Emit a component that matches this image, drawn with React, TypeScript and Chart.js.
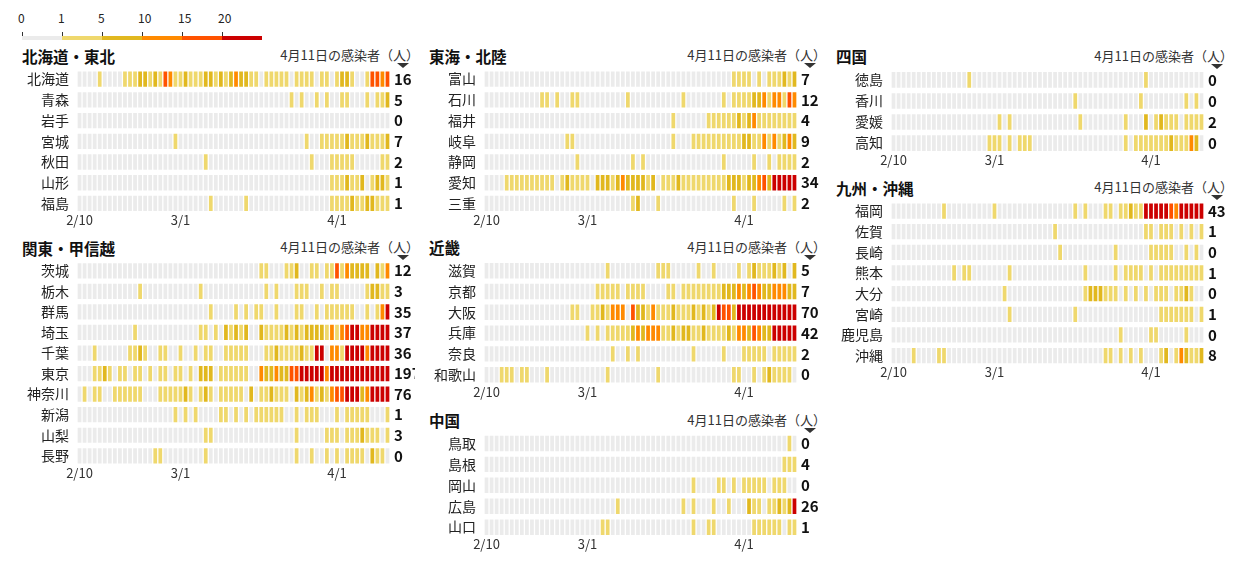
import React, { useEffect, useRef } from 'react';
import { Chart, registerables } from 'chart.js';

Chart.register(...registerables);

// Day categories shown along each strip (one cell per day)
const DATES = [
  '2/10', '2/11', '2/12', '2/13', '2/14', '2/15', '2/16', '2/17', '2/18', '2/19',
  '2/20', '2/21', '2/22', '2/23', '2/24', '2/25', '2/26', '2/27', '2/28', '2/29',
  '3/1', '3/2', '3/3', '3/4', '3/5', '3/6', '3/7', '3/8', '3/9', '3/10',
  '3/11', '3/12', '3/13', '3/14', '3/15', '3/16', '3/17', '3/18', '3/19', '3/20',
  '3/21', '3/22', '3/23', '3/24', '3/25', '3/26', '3/27', '3/28', '3/29', '3/30',
  '3/31', '4/1', '4/2', '4/3', '4/4', '4/5', '4/6', '4/7', '4/8', '4/9',
  '4/10', '4/11',
];
const AXIS_DATES = ['2/10', '3/1', '4/1'];
const LATEST_HEADER = '4月11日の感染者（人）';

// Colour scale: counts below the next stop take the colour at that index
const LEGEND_STOPS = [0, 1, 5, 10, 15, 20];
const SCALE_COLORS = ['#ebebeb', '#efd86d', '#e1b81f', '#ff8a00', '#ff5200', '#cc0000'];

// Daily new cases per prefecture, 2/10 .. 4/11
const hokkaido = [0,0,0,0,1,0,0,0,0,2, 1,3,6,7,3,8,4,15,12,3, 2,6,2,1,4,5,7,2,6,4, 7,12,6,5,2,1,0,1,2,3, 2,1,0,2,1,3,2,0,2,1, 0,2,5,6,3,0,0,4,17,18, 13,16];
const aomori = [0,0,0,0,0,0,0,0,0,0, 0,0,0,0,0,0,0,0,0,0, 0,0,0,0,0,0,0,0,0,0, 0,0,0,0,0,0,0,0,0,0, 0,0,1,0,1,0,0,1,0,1, 0,0,1,2,0,0,0,1,0,2, 3,5];
const iwate = [0,0,0,0,0,0,0,0,0,0, 0,0,0,0,0,0,0,0,0,0, 0,0,0,0,0,0,0,0,0,0, 0,0,0,0,0,0,0,0,0,0, 0,0,0,0,0,0,0,0,0,0, 0,0,0,0,0,0,0,0,0,0, 0,0];
const miyagi = [0,0,0,0,0,0,0,0,0,0, 0,0,0,0,0,0,0,0,0,1, 0,0,0,0,0,0,0,0,0,0, 0,0,0,0,0,0,0,0,0,0, 0,0,0,0,0,1,0,0,1,2, 1,3,2,6,4,2,3,5,2,3, 4,7];
const akita = [0,0,0,0,0,0,0,0,0,0, 0,0,0,0,0,0,0,0,0,0, 0,0,0,0,0,1,0,0,0,0, 0,0,0,0,0,0,0,0,0,0, 0,0,0,0,0,0,1,0,0,0, 1,2,1,1,1,0,0,0,0,0, 1,2];
const yamagata = [0,0,0,0,0,0,0,0,0,0, 0,0,0,0,0,0,0,0,0,0, 0,0,0,0,0,0,0,0,0,0, 0,0,0,0,0,0,0,0,0,0, 0,0,0,0,0,0,0,0,0,0, 1,2,1,5,2,1,6,0,3,5, 6,1];
const fukushima = [0,0,0,0,0,0,0,0,0,0, 0,0,0,0,0,0,0,0,0,0, 0,0,0,0,0,0,1,0,0,0, 0,0,0,1,0,0,0,0,0,0, 0,0,0,0,0,0,0,0,0,0, 1,2,1,3,5,2,1,5,6,2, 2,1];

const ibaraki = [0,0,0,0,0,0,0,0,0,0, 0,0,0,0,0,0,0,0,0,0, 0,0,0,0,0,0,0,0,0,0, 0,0,0,0,0,0,1,2,0,0, 0,2,3,6,0,0,1,2,0,2, 3,16,4,11,6,5,7,6,0,5, 4,12];
const tochigi = [0,0,0,0,0,0,0,0,0,0, 0,0,1,0,0,0,0,0,0,0, 0,0,0,0,1,0,0,0,0,0, 0,0,0,0,0,0,0,1,0,1, 0,0,0,1,2,1,0,0,1,0, 1,2,0,0,0,0,0,2,5,6, 1,3];
const gunma = [0,0,0,0,0,0,0,0,0,0, 0,0,0,0,0,0,0,0,0,0, 0,0,0,0,0,0,1,0,0,0, 0,1,0,1,0,2,1,0,0,1, 0,0,0,2,1,0,0,1,0,2, 1,3,1,2,1,0,0,2,0,3, 12,35];
const saitama = [0,0,0,0,0,0,0,0,0,0, 0,1,0,0,0,0,0,0,0,0, 0,0,0,0,1,2,0,1,0,5, 2,6,3,7,0,0,5,3,2,4, 1,6,3,8,4,7,9,5,6,2, 12,4,11,16,24,21,13,12,26,40, 29,37];
const chiba = [0,0,0,1,0,0,0,0,0,0, 2,1,5,2,0,0,1,3,0,0, 1,0,0,2,0,1,2,0,0,1, 3,2,1,2,0,0,0,1,2,6, 3,2,4,3,5,2,4,22,27,0, 12,11,4,22,25,23,21,13,30,20, 26,36];
const tokyo = [0,0,0,3,2,8,1,0,3,2, 0,1,3,0,2,0,3,3,0,1, 3,0,1,0,5,6,6,0,2,4, 4,2,3,1,0,0,12,7,7,11, 9,7,16,17,41,47,40,63,68,13, 78,66,97,89,116,143,83,80,144,178, 189,197];
const kanagawa = [0,1,0,2,1,0,0,1,2,1, 3,2,1,0,0,0,1,2,1,3, 2,6,1,0,2,5,1,0,1,2, 1,3,2,0,6,0,2,1,7,2, 3,1,0,8,4,6,11,3,5,2, 10,16,19,21,23,24,7,12,30,22, 42,76];
const niigata = [0,0,0,0,0,0,0,0,0,0, 0,0,0,0,0,0,0,0,0,1, 0,1,0,1,0,0,0,0,1,2, 0,1,0,1,0,1,2,1,3,2, 1,0,0,2,0,1,1,2,0,0, 0,1,0,2,1,1,2,1,0,0, 0,1];
const yamanashi = [0,0,0,0,0,0,0,0,0,0, 0,0,0,0,0,0,0,0,0,0, 0,0,0,0,0,1,1,0,0,0, 0,0,0,0,0,0,0,0,0,0, 0,0,0,1,0,0,0,0,0,2, 1,2,0,1,3,2,5,1,2,1, 0,3];
const nagano = [0,0,0,0,0,0,0,0,0,0, 0,0,0,0,0,1,1,0,0,0, 0,0,0,0,0,1,0,0,0,0, 0,0,0,0,0,0,0,0,0,0, 0,0,0,1,0,0,1,0,0,2, 0,1,0,2,1,3,1,0,5,2, 1,0];

const toyama = [0,0,0,0,0,0,0,0,0,0, 0,0,0,0,0,0,0,0,0,0, 0,0,0,0,0,0,0,0,0,0, 0,0,0,0,0,0,0,0,0,0, 0,0,0,0,0,0,0,0,0,1, 2,1,1,0,2,0,3,1,2,6, 2,7];
const ishikawa = [0,0,0,0,0,0,0,0,0,0, 0,1,1,0,1,0,0,1,1,0, 0,0,0,0,0,0,0,0,1,0, 0,0,0,0,0,0,0,0,0,1, 0,0,0,0,0,0,0,1,0,2, 1,3,2,6,5,10,4,11,10,3, 15,12];
const fukui = [0,0,0,0,0,0,0,0,0,0, 0,0,0,0,0,0,0,0,0,0, 0,0,0,0,0,0,0,0,0,0, 0,0,0,0,0,0,0,1,0,0, 0,0,0,0,1,1,2,1,3,2, 6,2,7,11,3,2,4,3,2,4, 3,4];
const gifu = [0,0,0,0,0,0,0,0,0,0, 0,0,0,0,0,0,1,1,0,0, 0,0,0,0,0,0,0,0,0,0, 0,0,0,0,0,0,0,1,0,0, 0,1,2,1,3,2,1,2,4,3, 2,6,5,3,2,10,4,11,3,6, 12,9];
const shizuoka = [0,0,0,0,0,0,0,0,0,0, 0,0,0,0,0,0,0,0,1,0, 0,0,0,0,0,0,0,0,0,1, 0,1,0,0,0,0,0,0,0,0, 0,0,0,0,0,0,0,1,0,0, 0,0,0,1,0,0,1,0,2,1, 3,2];
const aichi = [0,0,0,0,2,1,2,3,1,2, 1,2,3,2,0,1,5,2,1,3, 2,0,6,7,8,3,9,11,6,8, 7,5,3,6,0,2,1,3,5,2, 3,1,2,4,1,3,2,4,6,5, 8,3,6,7,10,15,6,20,25,23, 24,34];
const mie = [0,0,0,0,0,0,0,0,0,0, 0,0,0,0,0,0,0,0,0,0, 0,0,0,0,0,0,0,0,0,1, 5,0,0,0,1,0,0,0,0,0, 0,0,0,0,0,0,0,0,0,1, 0,0,0,1,0,0,0,0,0,1, 0,2];

const shiga = [0,0,0,0,0,0,0,0,0,0, 0,0,0,0,0,0,0,0,0,0, 0,0,0,0,1,0,0,0,0,0, 0,0,0,0,1,2,1,0,0,0, 0,0,1,0,0,1,0,0,0,0, 1,0,2,5,1,3,2,6,2,5, 0,5];
const kyoto = [0,0,0,0,0,0,0,0,0,0, 0,0,0,0,0,0,0,0,0,0, 0,0,1,2,1,3,1,0,1,2, 1,1,0,0,0,0,2,1,0,1, 2,1,3,2,1,4,2,5,6,7, 10,6,12,15,11,8,6,13,11,10, 5,7];
const osaka = [0,0,0,0,0,0,0,0,0,0, 0,0,0,0,0,0,0,1,2,0, 0,1,3,6,2,11,13,10,0,15, 7,5,3,12,4,2,3,8,2,1, 3,6,4,5,2,9,21,16,17,5, 28,22,34,41,45,29,41,31,23,92, 55,70];
const hyogo = [0,0,0,0,0,0,0,0,0,0, 0,0,0,0,0,0,0,0,0,0, 1,0,2,0,1,2,3,1,2,6, 12,5,10,13,11,4,3,7,2,6, 8,4,3,5,2,3,4,2,7,4, 11,12,6,17,13,8,7,26,21,25, 30,42];
const nara = [0,0,0,0,0,0,0,0,0,0, 0,0,0,0,0,0,0,0,0,0, 0,0,0,0,0,1,0,0,1,0, 1,0,0,0,0,0,0,0,0,0, 0,1,0,0,0,0,0,1,0,0, 0,1,2,1,1,3,0,1,2,1, 1,2];
const wakayama = [0,0,0,1,1,2,0,1,1,0, 0,0,1,0,0,0,0,0,0,0, 0,0,0,0,1,0,0,0,0,0, 0,0,0,0,1,0,0,0,0,0, 0,0,0,0,0,0,0,0,0,1, 1,0,0,1,0,2,5,1,2,1, 2,0];

const tottori = [0,0,0,0,0,0,0,0,0,0, 0,0,0,0,0,0,0,0,0,0, 0,0,0,0,0,0,0,0,0,0, 0,0,0,0,0,0,0,0,0,0, 0,0,0,0,0,0,0,0,0,0, 0,0,0,0,0,0,0,0,0,0, 1,0];
const shimane = [0,0,0,0,0,0,0,0,0,0, 0,0,0,0,0,0,0,0,0,0, 0,0,0,0,0,0,0,0,0,0, 0,0,0,0,0,0,0,0,0,0, 0,0,0,0,0,0,0,0,0,0, 0,0,0,0,0,0,0,0,0,1, 1,4];
const okayama = [0,0,0,0,0,0,0,0,0,0, 0,0,0,0,0,0,0,0,0,0, 0,0,0,0,0,0,0,0,0,0, 0,0,0,0,0,0,0,0,0,0, 0,1,0,0,0,0,1,1,0,1, 0,1,2,1,1,1,0,1,2,1, 0,0];
const hiroshima = [0,0,0,0,0,0,0,0,0,0, 0,0,0,0,0,0,0,0,0,0, 0,0,0,0,0,0,1,0,0,0, 0,0,0,0,0,0,0,0,0,1, 0,1,0,0,0,1,0,0,1,0, 0,0,6,1,2,0,1,3,5,2, 6,26];
const yamaguchi = [0,0,0,0,0,0,0,0,0,0, 0,0,0,0,0,0,0,0,0,0, 0,0,0,1,1,0,0,0,0,0, 0,0,0,0,0,0,0,0,0,0, 0,1,0,0,1,1,0,0,0,0, 0,0,0,1,2,1,1,1,1,0, 1,1];

const tokushima = [0,0,0,0,0,0,0,0,0,0, 0,0,0,0,0,1,0,0,0,0, 0,0,0,0,0,0,0,0,0,0, 0,0,0,0,0,0,0,0,0,0, 0,0,0,0,0,0,0,0,0,0, 1,0,0,0,0,0,0,0,0,0, 0,0];
const kagawa = [0,0,0,0,0,0,0,0,0,0, 0,0,0,0,0,0,0,0,0,0, 0,0,0,0,0,0,0,0,0,0, 0,0,0,0,0,0,1,0,0,0, 0,0,0,0,0,0,0,0,0,1, 0,0,0,0,0,0,0,0,1,0, 1,0];
const ehime = [0,0,0,0,0,0,0,0,0,0, 0,0,0,0,0,0,0,0,0,0, 0,1,0,1,0,0,0,0,0,0, 0,0,0,0,0,0,0,1,0,0, 0,0,0,0,0,0,1,0,0,0, 5,0,1,6,2,1,1,0,1,3, 1,2];
const kochi = [0,0,0,0,0,0,0,0,0,0, 0,0,0,0,0,0,0,0,0,1, 2,1,0,1,0,1,1,2,0,0, 0,0,0,0,0,0,0,0,0,0, 0,0,0,0,0,0,1,0,1,2, 1,3,2,1,3,5,2,1,4,12, 6,0];

const fukuoka = [0,0,0,0,0,0,0,0,0,0, 1,0,0,0,0,0,0,0,0,0, 1,0,0,0,0,0,0,0,0,0, 0,0,0,0,0,0,1,0,1,0, 0,0,1,2,0,1,3,5,3,4, 22,21,23,26,20,18,13,27,21,25, 21,43];
const saga = [0,0,0,0,0,0,0,0,0,0, 0,0,0,0,0,0,0,0,0,0, 0,0,0,0,0,0,0,0,0,0, 0,0,1,0,0,0,0,0,0,0, 0,0,0,0,0,0,0,0,0,0, 1,1,0,1,2,1,0,1,0,1, 0,1];
const nagasaki = [0,0,0,0,0,0,0,0,0,0, 0,0,0,0,0,0,0,0,0,0, 0,0,0,0,0,0,0,0,0,0, 0,0,0,1,0,0,0,0,0,0, 0,0,0,0,1,0,0,0,0,0, 0,1,2,1,1,1,0,0,1,0, 1,0];
const kumamoto = [0,0,0,0,0,0,0,0,0,0, 0,0,1,0,1,1,0,0,0,0, 0,0,0,1,0,0,0,0,0,0, 0,0,0,0,0,0,0,0,1,0, 0,0,0,0,1,0,1,2,1,1, 0,1,0,1,2,1,1,3,1,2, 1,1];
const oita = [0,0,0,0,0,0,0,0,0,0, 0,0,0,0,0,0,0,0,0,0, 0,0,1,0,0,0,0,0,0,0, 0,0,0,0,0,0,0,0,2,6, 5,7,3,2,1,0,1,0,1,0, 1,0,2,1,1,0,1,2,5,1, 0,0];
const miyazaki = [0,0,0,0,0,0,0,0,0,0, 0,0,0,0,0,0,0,0,0,0, 0,0,0,1,0,0,0,0,0,0, 0,0,0,0,0,0,1,0,0,0, 0,0,0,0,0,0,0,0,0,0, 0,0,0,1,2,1,1,1,2,1, 0,1];
const kagoshima = [0,0,0,0,0,0,0,0,0,0, 0,0,0,0,0,0,0,0,0,0, 0,0,0,0,0,0,0,0,0,0, 0,0,0,0,0,0,0,0,0,0, 0,0,0,0,0,1,0,0,0,0, 0,1,1,0,0,0,0,0,1,0, 0,0];
const okinawa = [0,0,0,0,1,0,0,0,0,1, 1,0,0,0,0,0,0,0,0,0, 0,0,0,0,0,0,0,0,0,0, 0,0,0,0,0,0,0,0,0,0, 0,0,1,1,0,1,0,1,0,1, 0,0,0,1,6,0,2,10,7,3, 1,8];

type Pref = [string, number[]];
type Region = { title: string; col: number; top: number; prefs: Pref[] };

const REGIONS: Region[] = [
  { title: '北海道・東北', col: 0, top: 68.8, prefs: [['北海道', hokkaido], ['青森', aomori], ['岩手', iwate], ['宮城', miyagi], ['秋田', akita], ['山形', yamagata], ['福島', fukushima]] },
  { title: '関東・甲信越', col: 0, top: 260.5, prefs: [['茨城', ibaraki], ['栃木', tochigi], ['群馬', gunma], ['埼玉', saitama], ['千葉', chiba], ['東京', tokyo], ['神奈川', kanagawa], ['新潟', niigata], ['山梨', yamanashi], ['長野', nagano]] },
  { title: '東海・北陸', col: 1, top: 68.8, prefs: [['富山', toyama], ['石川', ishikawa], ['福井', fukui], ['岐阜', gifu], ['静岡', shizuoka], ['愛知', aichi], ['三重', mie]] },
  { title: '近畿', col: 1, top: 260.3, prefs: [['滋賀', shiga], ['京都', kyoto], ['大阪', osaka], ['兵庫', hyogo], ['奈良', nara], ['和歌山', wakayama]] },
  { title: '中国', col: 1, top: 433.0, prefs: [['鳥取', tottori], ['島根', shimane], ['岡山', okayama], ['広島', hiroshima], ['山口', yamaguchi]] },
  { title: '四国', col: 2, top: 69.3, prefs: [['徳島', tokushima], ['香川', kagawa], ['愛媛', ehime], ['高知', kochi]] },
  { title: '九州・沖縄', col: 2, top: 200.7, prefs: [['福岡', fukuoka], ['佐賀', saga], ['長崎', nagasaki], ['熊本', kumamoto], ['大分', oita], ['宮崎', miyazaki], ['鹿児島', kagoshima], ['沖縄', okinawa]] },
];

const FONT = '"Noto Sans CJK JP", "Noto Sans", sans-serif';
const COL_X0 = 15;
const COL_STEP = 407;
const LABEL_W = 62;
const GRID_W = 313;
const VALUE_W = 25;
const AXIS_H = 18;

function colorFor(v: number): string {
  let k = 0;
  while (k + 1 < LEGEND_STOPS.length && v >= LEGEND_STOPS[k + 1]) k++;
  return SCALE_COLORS[k];
}

function Panel({ region }: { region: Region }) {
  const ref = useRef<HTMLCanvasElement>(null);
  const n = region.prefs.length;
  const pitch = 20.2 + 3.6 / n;
  const rowsH = n * pitch;
  const base = COL_X0 + COL_STEP * region.col;
  const canvasTop = Math.floor(region.top);
  const padTop = region.top - canvasTop;
  const canvasH = Math.ceil(padTop + rowsH + AXIS_H);
  const axisH = canvasH - padTop - rowsH;
  const canvasW = LABEL_W + GRID_W + VALUE_W;

  useEffect(() => {
    const names = region.prefs.map((p) => p[0]);
    const series = region.prefs.map((p) => p[1]);
    const latest = series.map((s) => s[s.length - 1]);
    const rowTicks = (s: any) => {
      s.ticks = names.map((_, i) => ({ value: i }));
    };
    const chart = new Chart(ref.current as HTMLCanvasElement, {
      type: 'bar',
      data: {
        labels: DATES,
        datasets: series.map((vals, r) => ({
          label: names[r],
          data: vals.map(() => [r - 0.37, r + 0.37]),
          backgroundColor: vals.map(colorFor),
        })) as any,
      },
      options: {
        animation: false,
        responsive: false,
        maintainAspectRatio: false,
        events: [],
        layout: { padding: { top: padTop, left: 0, right: 0, bottom: 0 } },
        datasets: {
          bar: { grouped: false, barPercentage: 0.74, categoryPercentage: 1, borderWidth: 0, inflateAmount: 0 } as any,
        },
        plugins: { legend: { display: false }, tooltip: { enabled: false }, title: { display: false } },
        scales: {
          x: {
            type: 'category',
            grid: { display: false, drawTicks: false },
            border: { display: false },
            ticks: {
              autoSkip: false,
              maxRotation: 0,
              minRotation: 0,
              padding: 0,
              color: '#333',
              font: { family: FONT, size: 13, lineHeight: 1 },
              callback: (_v: any, i: number) => (AXIS_DATES.includes(DATES[i]) ? DATES[i] : ''),
            },
            afterFit: (s: any) => {
              s.height = axisH;
              s.paddingLeft = 0;
              s.paddingRight = 0;
            },
          },
          y: {
            type: 'linear',
            min: -0.5,
            max: n - 0.5,
            reverse: true,
            grid: { display: false, drawTicks: false },
            border: { display: false },
            afterBuildTicks: rowTicks,
            ticks: {
              autoSkip: false,
              padding: 8,
              color: '#222',
              font: { family: FONT, size: 14 },
              callback: (v: any) => names[v] ?? '',
            },
            afterFit: (s: any) => {
              s.width = LABEL_W;
              s.paddingTop = 0;
              s.paddingBottom = 0;
            },
          },
          y2: {
            type: 'linear',
            position: 'right',
            min: -0.5,
            max: n - 0.5,
            reverse: true,
            grid: { display: false, drawTicks: false },
            border: { display: false },
            afterBuildTicks: rowTicks,
            ticks: {
              autoSkip: false,
              padding: 4,
              color: '#111',
              font: { family: FONT, size: 15, weight: 'bold' },
              callback: (v: any) => (latest[v] !== undefined ? String(latest[v]) : ''),
            },
            afterFit: (s: any) => {
              s.width = VALUE_W;
              s.paddingTop = 0;
              s.paddingBottom = 0;
            },
          },
        } as any,
      },
    });
    return () => chart.destroy();
  }, []);

  return (
    <>
      <div
        style={{
          position: 'absolute',
          left: base + 7,
          top: region.top - 24,
          font: `bold 15.5px ${FONT}`,
          lineHeight: '22px',
          color: '#111',
          whiteSpace: 'nowrap',
        }}
      >
        {region.title}
      </div>
      <div
        style={{
          position: 'absolute',
          left: base,
          top: region.top - 24.5,
          width: canvasW + 4,
          textAlign: 'right',
          font: `13px ${FONT}`,
          lineHeight: '22px',
          color: '#333',
          whiteSpace: 'nowrap',
        }}
      >
        {LATEST_HEADER}
      </div>
      <div
        style={{
          position: 'absolute',
          left: base + LABEL_W + GRID_W + 6.5,
          top: region.top - 5.5,
          width: 0,
          height: 0,
          borderLeft: '6px solid transparent',
          borderRight: '6px solid transparent',
          borderTop: '5px solid #333',
        }}
      />
      <canvas
        ref={ref}
        width={canvasW}
        height={canvasH}
        style={{ position: 'absolute', left: base, top: canvasTop, width: canvasW, height: canvasH }}
      />
    </>
  );
}

function ColorLegend() {
  const x0 = 21.5;
  const seg = 40;
  return (
    <>
      {LEGEND_STOPS.map((stop, k) => (
        <React.Fragment key={stop}>
          <div
            style={{
              position: 'absolute',
              left: x0 + seg * k,
              top: 36,
              width: seg,
              height: 4,
              background: SCALE_COLORS[k],
            }}
          />
          <div
            style={{
              position: 'absolute',
              left: x0 + seg * k,
              top: 31.5,
              width: 1,
              height: 4.5,
              background: '#333',
            }}
          />
          <div
            style={{
              position: 'absolute',
              left: x0 + seg * k - 3.5,
              top: 10,
              font: `12px ${FONT}`,
              lineHeight: '16px',
              color: '#222',
              whiteSpace: 'nowrap',
            }}
          >
            {stop}
          </div>
        </React.Fragment>
      ))}
    </>
  );
}

export default function App() {
  return (
    <div style={{ position: 'absolute', left: 0, top: 0, width: 1253, height: 563, background: '#fff', overflow: 'hidden' }}>
      <ColorLegend />
      {REGIONS.map((r) => (
        <Panel key={r.title} region={r} />
      ))}
    </div>
  );
}
